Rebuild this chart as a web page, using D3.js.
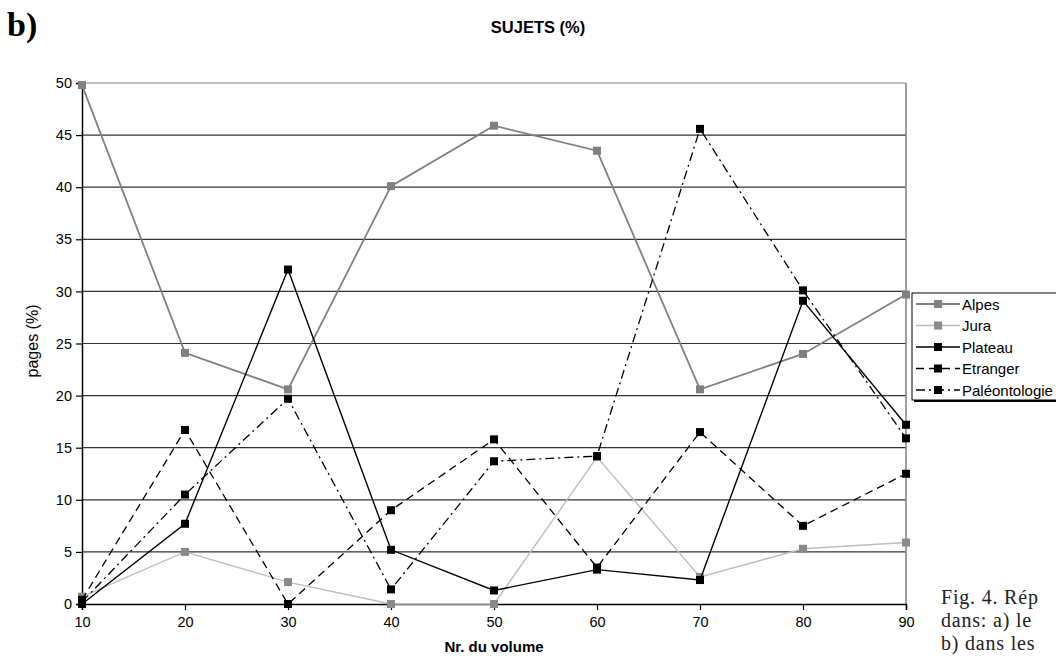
<!DOCTYPE html>
<html>
<head>
<meta charset="utf-8">
<script src="https://cdn.jsdelivr.net/npm/d3@7"></script>
<style>
  body { margin: 0; background: #fff; }
  svg { display: block; font-family: "Liberation Sans", Arial, sans-serif; }
</style>
</head>
<body>
<div id="chart"></div>
<script>
const volumes = [10, 20, 30, 40, 50, 60, 70, 80, 90];
const alpes = [49.8, 24.1, 20.6, 40.1, 45.9, 43.5, 20.6, 24.0, 29.7];
const jura = [0.7, 5.0, 2.1, 0, 0, 14.1, 2.6, 5.3, 5.9];
const plateau = [0, 7.7, 32.1, 5.2, 1.3, 3.3, 2.3, 29.1, 17.2];
const etranger = [0.4, 16.7, 0, 9.0, 15.8, 3.5, 16.5, 7.5, 12.5];
const paleo = [0.2, 10.5, 19.7, 1.4, 13.7, 14.2, 45.6, 30.1, 15.9];
const yTicks = [0, 5, 10, 15, 20, 25, 30, 35, 40, 45, 50];

const series = [
  { name: "Alpes", values: alpes, stroke: "#808080", width: 1.8, dash: null, marker: "#808080" },
  { name: "Jura", values: jura, stroke: "#bdbdbd", width: 1.4, dash: null, marker: "#8a8a8a" },
  { name: "Plateau", values: plateau, stroke: "#000", width: 1.4, dash: null, marker: "#000" },
  { name: "Etranger", values: etranger, stroke: "#000", width: 1.3, dash: "8,5", marker: "#000" },
  { name: "Paléontologie", values: paleo, stroke: "#000", width: 1.3, dash: "9,4,2,4", marker: "#000" }
];

const W = 1056, H = 659;
const plot = { left: 82, right: 906, top: 83, bottom: 604 };

const svg = d3.select("#chart").append("svg")
  .attr("width", W).attr("height", H);

const x = d3.scaleLinear().domain([10, 90]).range([plot.left, plot.right]);
const y = d3.scaleLinear().domain([0, 50]).range([plot.bottom, plot.top]);

// lignes de grille
svg.append("g").selectAll("line")
  .data(yTicks.filter(t => t > 0))
  .join("line")
  .attr("x1", plot.left).attr("x2", plot.right)
  .attr("y1", d => y(d)).attr("y2", d => y(d))
  .attr("stroke", d => d === 50 ? "#808080" : "#333")
  .attr("stroke-width", 1.2);

// bord droit
svg.append("line")
  .attr("x1", plot.right).attr("x2", plot.right)
  .attr("y1", plot.top).attr("y2", plot.bottom)
  .attr("stroke", "#808080").attr("stroke-width", 1.5);

// axes
const yAxis = svg.append("g")
  .attr("transform", `translate(${plot.left},0)`)
  .call(d3.axisLeft(y).tickValues(yTicks).tickSize(6).tickPadding(4));
const xAxis = svg.append("g")
  .attr("transform", `translate(0,${plot.bottom})`)
  .call(d3.axisBottom(x).tickValues(volumes).tickSize(6).tickPadding(7));

[yAxis, xAxis].forEach(a => {
  a.select(".domain").attr("stroke", "#000").attr("stroke-width", 1.5);
  a.selectAll(".tick line").attr("stroke", "#000").attr("stroke-width", 1.2);
  a.selectAll(".tick text").attr("font-size", 14.5).attr("fill", "#000")
    .attr("font-family", "'Liberation Sans', Arial, sans-serif");
});

// séries
const line = d3.line().x((d, i) => x(volumes[i])).y(d => y(d));
series.forEach(s => {
  svg.append("path")
    .attr("d", line(s.values))
    .attr("fill", "none")
    .attr("stroke", s.stroke)
    .attr("stroke-width", s.width)
    .attr("stroke-dasharray", s.dash);
  svg.append("g").selectAll("rect")
    .data(s.values)
    .join("rect")
    .attr("x", (d, i) => x(volumes[i]) - 4)
    .attr("y", d => y(d) - 4)
    .attr("width", 8).attr("height", 8)
    .attr("fill", s.marker);
});

// titre
svg.append("text")
  .attr("x", 538).attr("y", 33)
  .attr("text-anchor", "middle")
  .attr("font-size", 16.5).attr("font-weight", "bold")
  .text("SUJETS (%)");

svg.append("text")
  .attr("x", 7).attr("y", 36)
  .attr("font-family", "'Liberation Serif', 'Times New Roman', serif")
  .attr("font-size", 34).attr("font-weight", "bold")
  .text("b)");

svg.append("text")
  .attr("x", 494).attr("y", 652)
  .attr("text-anchor", "middle")
  .attr("font-size", 15).attr("font-weight", "bold")
  .text("Nr. du volume");

svg.append("text")
  .attr("transform", "translate(38,341) rotate(-90)")
  .attr("text-anchor", "middle")
  .attr("font-size", 16)
  .text("pages (%)");

// légende
const legend = svg.append("g").attr("transform", "translate(912,293)");
legend.append("rect")
  .attr("x", 2).attr("y", 2).attr("width", 160).attr("height", 107)
  .attr("fill", "#000");
legend.append("rect")
  .attr("x", 0).attr("y", 0).attr("width", 160).attr("height", 107)
  .attr("fill", "#fff").attr("stroke", "#000").attr("stroke-width", 1);
series.forEach((s, i) => {
  const ly = 11 + i * 21.5;
  legend.append("line")
    .attr("x1", 4).attr("x2", 48).attr("y1", ly).attr("y2", ly)
    .attr("stroke", s.stroke).attr("stroke-width", s.width + 0.3)
    .attr("stroke-dasharray", s.dash);
  legend.append("rect")
    .attr("x", 22).attr("y", ly - 4).attr("width", 8).attr("height", 8)
    .attr("fill", s.marker);
  legend.append("text")
    .attr("x", 50).attr("y", ly + 5.5)
    .attr("font-size", 15)
    .text(s.name);
});

// légende de figure (coupée à droite)
const caption = ["Fig. 4. Rép", "dans: a) le", "b) dans les"];
svg.append("g").selectAll("text")
  .data(caption)
  .join("text")
  .attr("x", 941).attr("y", (d, i) => 604 + i * 23)
  .attr("font-family", "'Liberation Serif', 'Times New Roman', serif")
  .attr("font-size", 20)
  .attr("letter-spacing", 0.8)
  .attr("fill", "#222")
  .text(d => d);
</script>
</body>
</html>
